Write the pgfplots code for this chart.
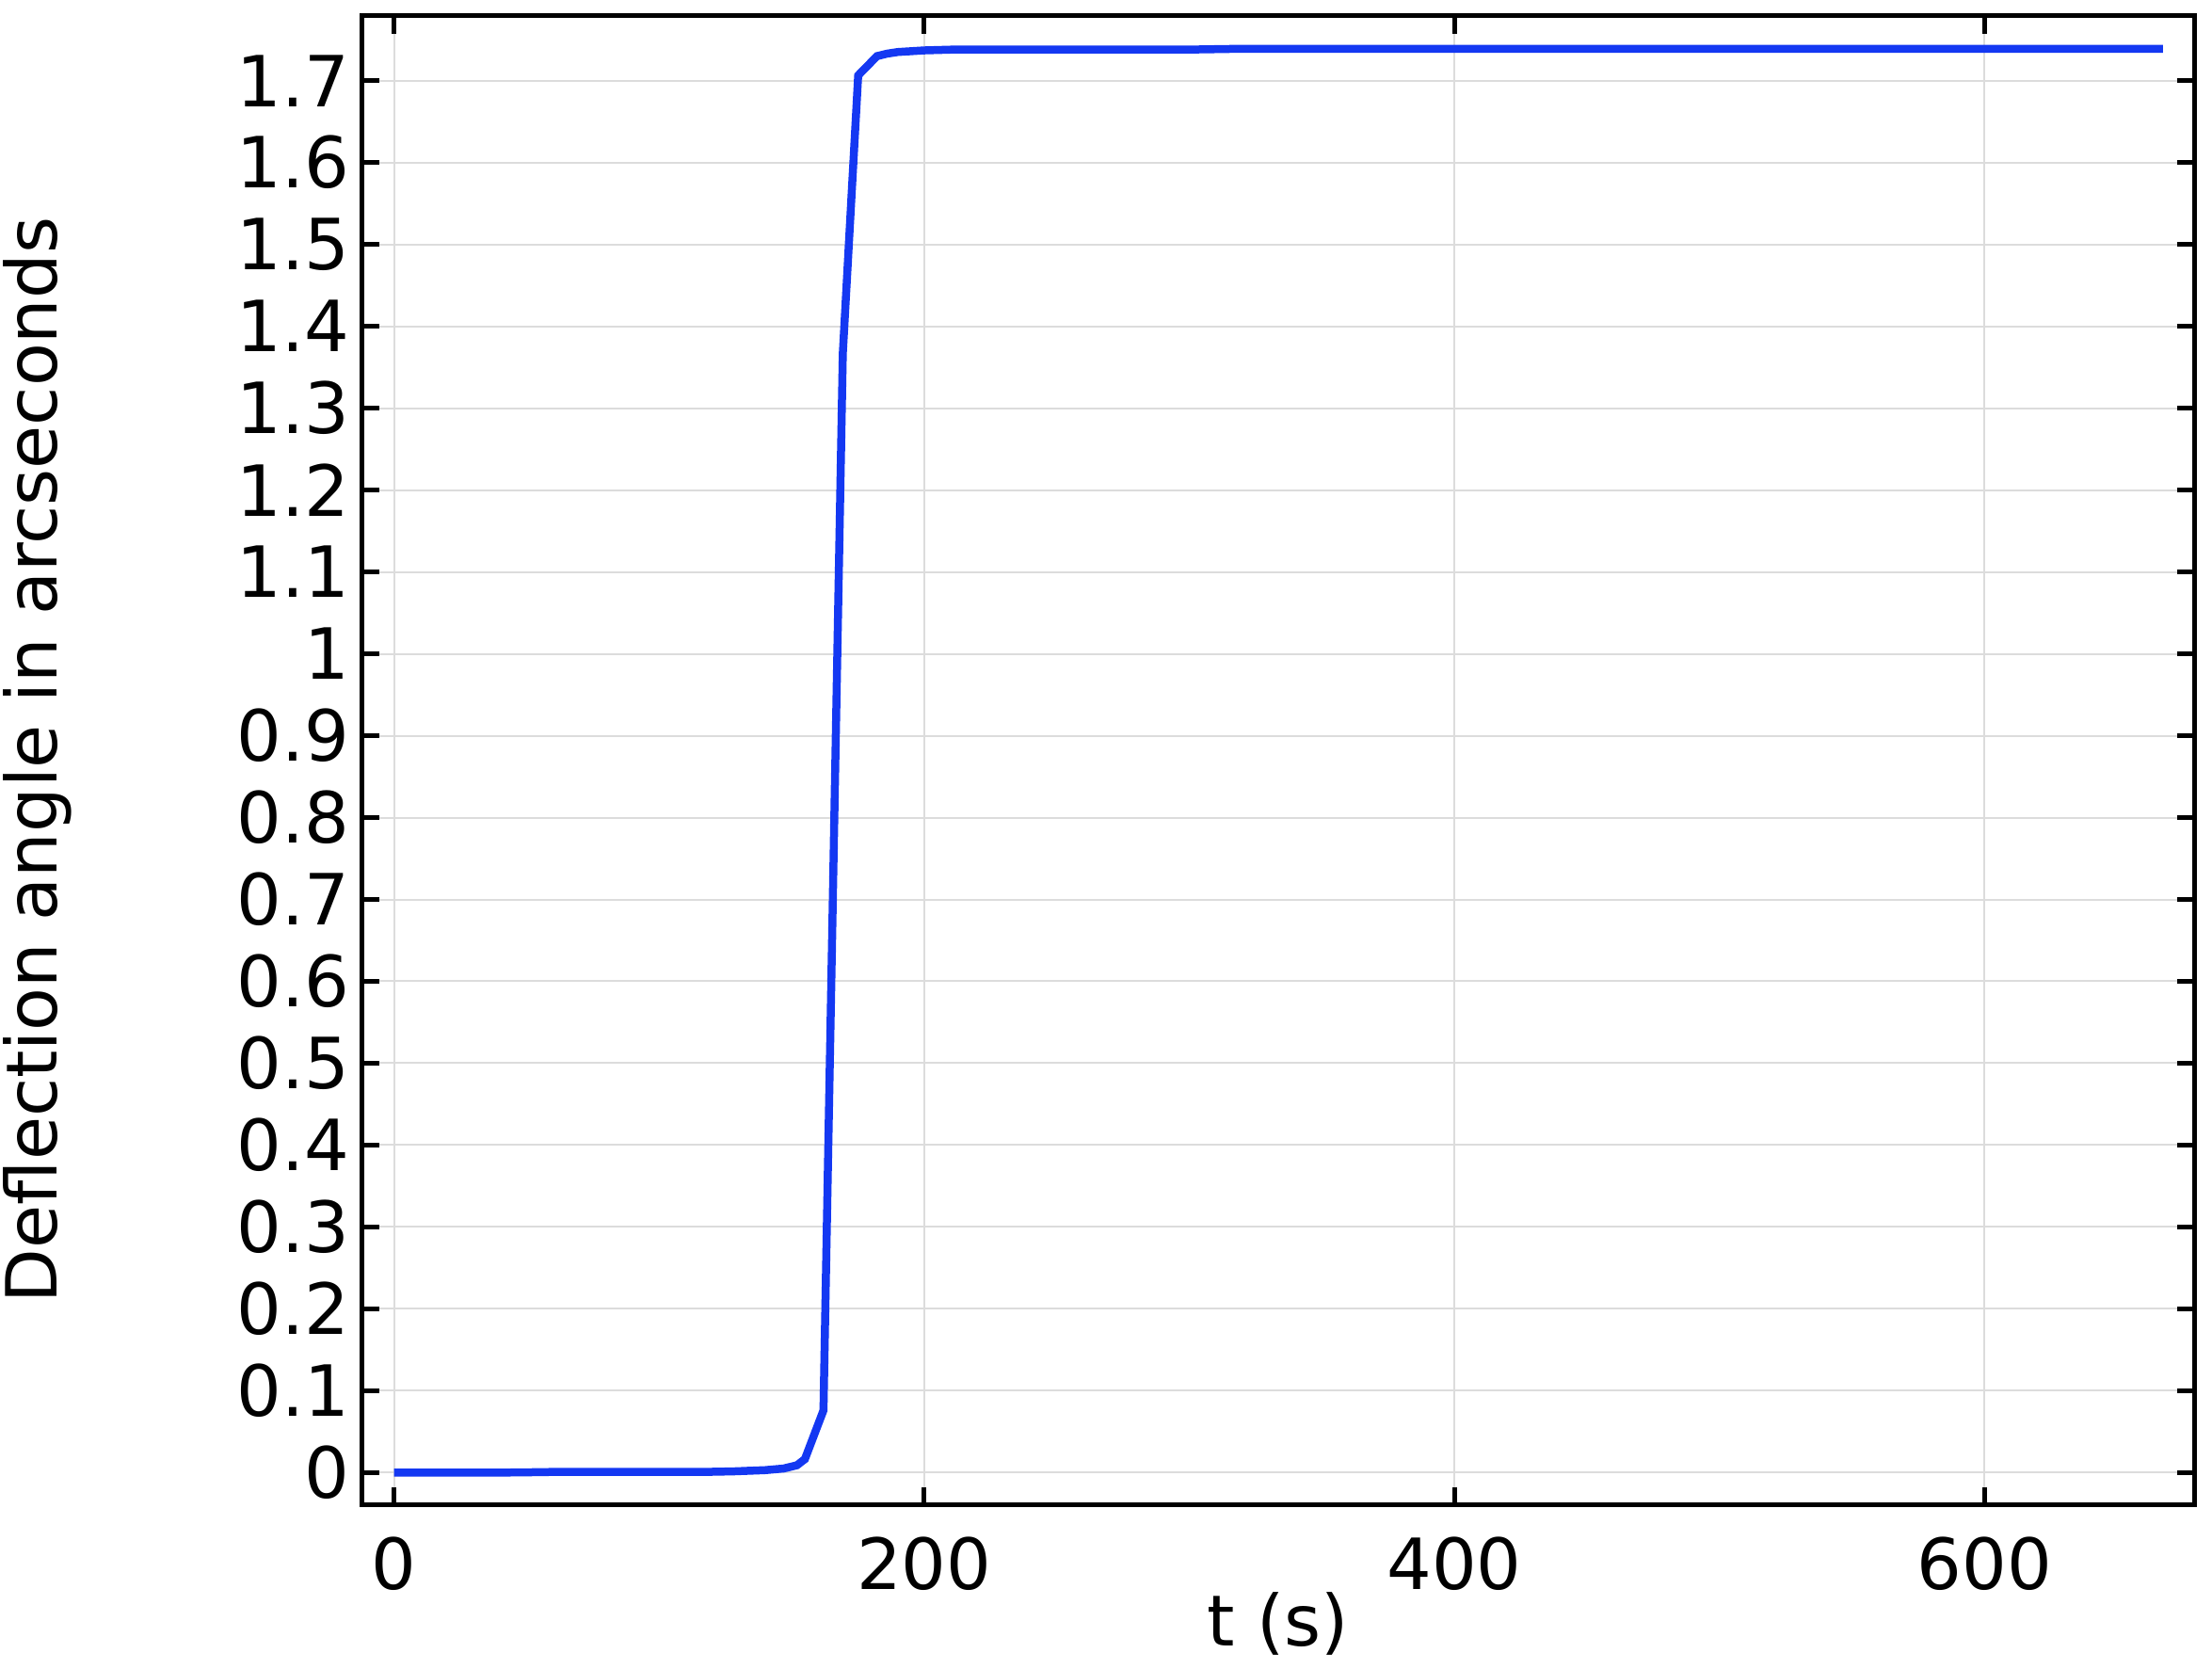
\documentclass[border=0pt]{standalone}
\usepackage{pgfplots}
\pgfplotsset{compat=1.18}
\usepackage{fontspec}
\setmainfont{DejaVu Sans}
\definecolor{lineblue}{RGB}{20,56,242}
\definecolor{gridgray}{RGB}{220,220,220}
\begin{document}
\begin{tikzpicture}
\useasboundingbox (0,0) rectangle (470pt,354.4pt);
\begin{axis}[
  at={(76.8pt,34.8pt)}, anchor=south west,
  scale only axis,
  width=389.4pt, height=316.2pt,
  xmin=-12.3, xmax=679.1,
  ymin=-0.0387, ymax=1.779,
  xtick={0,200,400,600},
  ytick={0,0.1,...,1.75},
  yticklabels={0,0.1,0.2,0.3,0.4,0.5,0.6,0.7,0.8,0.9,1,1.1,1.2,1.3,1.4,1.5,1.6,1.7},
  grid=major,
  major grid style={gridgray, line width=0.4pt},
  axis line style={black, line width=1pt},
  tick style={black, line width=1pt},
  tick align=inside,
  major tick length=3.7pt,
  every tick label/.append style={font=\fontsize{15}{18}\selectfont},
  /pgf/number format/assume math mode=true,
  xticklabel style={yshift=-3.4pt},
  yticklabel style={xshift=0.9pt},
  xlabel={t (s)},
  ylabel={Deflection angle in arcseconds},
  every axis x label/.style={at={(rel axis cs:0.5,0)}, yshift=-25.4pt, anchor=center, font=\fontsize{15}{18}\selectfont},
  every axis y label/.style={at={(rel axis cs:0,0.5)}, xshift=-68.8pt, rotate=90, anchor=center, font=\fontsize{15}{18}\selectfont},
]
\addplot[lineblue, line width=1.7pt] coordinates {
(0,0) (20,0) (40,0) (54,0.0005) (60,0.0008) (80,0.0008) (100,0.0009)
(120,0.001) (128,0.0015) (140,0.003) (147,0.005) (152,0.009) (155,0.0165)
(162,0.076) (169.3,1.367) (175.1,1.7065) (182.2,1.730) (186,1.733)
(190,1.735) (200,1.737) (211,1.738) (250,1.738) (300,1.738) (320,1.739)
(400,1.739) (500,1.739) (600,1.739) (667.3,1.739)
};
\end{axis}
\end{tikzpicture}
\end{document}
